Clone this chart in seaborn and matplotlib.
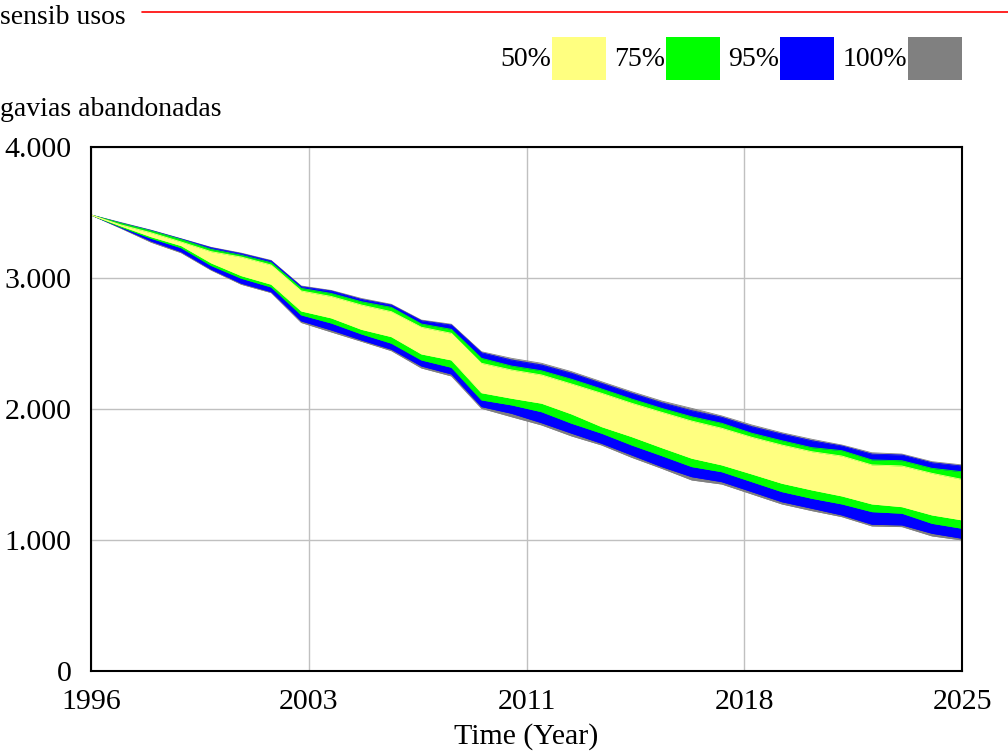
import matplotlib
matplotlib.use("Agg")
import matplotlib.pyplot as plt
from matplotlib.patches import Rectangle
import seaborn as sns
import pandas as pd

years = list(range(1996, 2026))

# Confidence bounds (gavias abandonadas)
p100_hi = [3481, 3423, 3365, 3300, 3234, 3190, 3134, 2939, 2905, 2844, 2799, 2679, 2647, 2437, 2387,
           2349, 2285, 2208, 2132, 2061, 2005, 1947, 1878, 1819, 1769, 1725, 1666, 1656, 1598, 1573]
p95_hi = [3481, 3420, 3363, 3298, 3231, 3186, 3130, 2934, 2901, 2837, 2794, 2674, 2641, 2430, 2374,
          2336, 2273, 2196, 2120, 2048, 1987, 1937, 1865, 1809, 1758, 1718, 1656, 1649, 1590, 1565]
p75_hi = [3481, 3418, 3360, 3294, 3219, 3174, 3117, 2921, 2882, 2819, 2776, 2649, 2608, 2387, 2328,
          2292, 2227, 2153, 2076, 2005, 1941, 1891, 1815, 1758, 1705, 1682, 1611, 1605, 1547, 1521]
p50_hi = [3481, 3405, 3345, 3275, 3201, 3160, 3099, 2901, 2859, 2794, 2743, 2624, 2578, 2349, 2298,
          2260, 2191, 2120, 2044, 1975, 1908, 1853, 1784, 1725, 1674, 1641, 1573, 1565, 1509, 1463]
p50_lo = [3481, 3397, 3315, 3247, 3115, 3018, 2952, 2748, 2695, 2608, 2552, 2420, 2374, 2124, 2082,
          2044, 1962, 1865, 1789, 1705, 1624, 1573, 1504, 1433, 1382, 1336, 1275, 1254, 1191, 1153]
p75_lo = [3481, 3389, 3303, 3231, 3095, 2998, 2931, 2718, 2656, 2573, 2502, 2374, 2318, 2069, 2031,
          1979, 1891, 1815, 1725, 1644, 1560, 1521, 1445, 1369, 1318, 1275, 1216, 1204, 1127, 1089]
p95_lo = [3481, 3384, 3282, 3201, 3067, 2960, 2895, 2672, 2603, 2527, 2456, 2328, 2267, 2018, 1967,
          1895, 1815, 1738, 1649, 1560, 1483, 1445, 1369, 1292, 1242, 1191, 1120, 1115, 1051, 1013]
p100_lo = [3481, 3379, 3273, 3193, 3060, 2952, 2888, 2660, 2588, 2517, 2445, 2313, 2252, 2005, 1941,
           1878, 1794, 1725, 1631, 1547, 1458, 1427, 1351, 1275, 1224, 1178, 1107, 1102, 1031, 1000]

band_labels = ["50%", "75%", "95%", "100%"]
band_colors = ["#ffff80", "#00ff00", "#0000ff", "#808080"]

x_ticks = [1996, 2003.25, 2010.5, 2017.75, 2025]
x_tick_labels = ["1996", "2003", "2011", "2018", "2025"]
y_ticks = [0, 1000, 2000, 3000, 4000]
y_tick_labels = ["0", "1.000", "2.000", "3.000", "4.000"]

df = pd.DataFrame({"year": years, "p100_hi": p100_hi, "p95_hi": p95_hi, "p75_hi": p75_hi,
                   "p50_hi": p50_hi, "p50_lo": p50_lo, "p75_lo": p75_lo, "p95_lo": p95_lo,
                   "p100_lo": p100_lo})

sns.set_theme(style="white")
plt.rcParams["font.family"] = ["Liberation Serif", "DejaVu Serif"]
plt.rcParams["text.color"] = "black"
plt.rcParams["axes.labelcolor"] = "black"
plt.rcParams["xtick.color"] = "black"
plt.rcParams["ytick.color"] = "black"
FS = 20
TFS = 21.5

fig = plt.figure(figsize=(10.08, 7.56), dpi=100)
ax = fig.add_axes([91 / 1008, 1 - 671 / 756, (962 - 91) / 1008, (671 - 147) / 756])

pairs = [("p100_lo", "p100_hi", band_colors[3]),
         ("p95_lo", "p95_hi", band_colors[2]),
         ("p75_lo", "p75_hi", band_colors[1]),
         ("p50_lo", "p50_hi", band_colors[0])]
for lo, hi, c in pairs:
    ax.fill_between(df["year"], df[lo], df[hi], color=c, linewidth=0, zorder=2)
    sns.lineplot(data=df, x="year", y=hi, ax=ax, color=c, linewidth=0.6, zorder=2)
    sns.lineplot(data=df, x="year", y=lo, ax=ax, color=c, linewidth=0.6, zorder=2)

ax.set_xlim(1996, 2025)
ax.set_ylim(0, 4000)
ax.set_xticks(x_ticks)
ax.set_xticklabels(x_tick_labels, fontsize=TFS)
ax.set_yticks(y_ticks)
ax.set_yticklabels(y_tick_labels, fontsize=TFS)
ax.tick_params(axis="x", length=0, pad=13)
ax.tick_params(axis="y", length=0, pad=14)
ax.grid(True, color="#c0c0c0", linewidth=1, zorder=1)
ax.set_axisbelow(True)
for s in ax.spines.values():
    s.set_color("black")
    s.set_linewidth(1.5)
ax.set_xlabel("Time (Year)", fontsize=TFS, labelpad=6)
ax.set_ylabel("")

# Titles
fig.text(0 / 1008, 1 - 17 / 756, "sensib usos", fontsize=FS, ha="left", va="center")
fig.add_artist(plt.Line2D([142 / 1008, 1.0], [1 - 12 / 756, 1 - 12 / 756], color="red", linewidth=1.2))
fig.text(0 / 1008, 1 - 110 / 756, "gavias abandonadas", fontsize=FS, ha="left", va="center")

# Legend
box_lefts = [552, 666, 780, 908]
for lab, c, bl in zip(band_labels, band_colors, box_lefts):
    fig.add_artist(Rectangle((bl / 1008, 1 - 80 / 756), 54 / 1008, 43 / 756,
                             transform=fig.transFigure, facecolor=c, edgecolor="none"))
    fig.text((bl - 1) / 1008, 1 - 60 / 756, lab, fontsize=FS, ha="right", va="center")

fig.savefig("out.png", dpi=100)
